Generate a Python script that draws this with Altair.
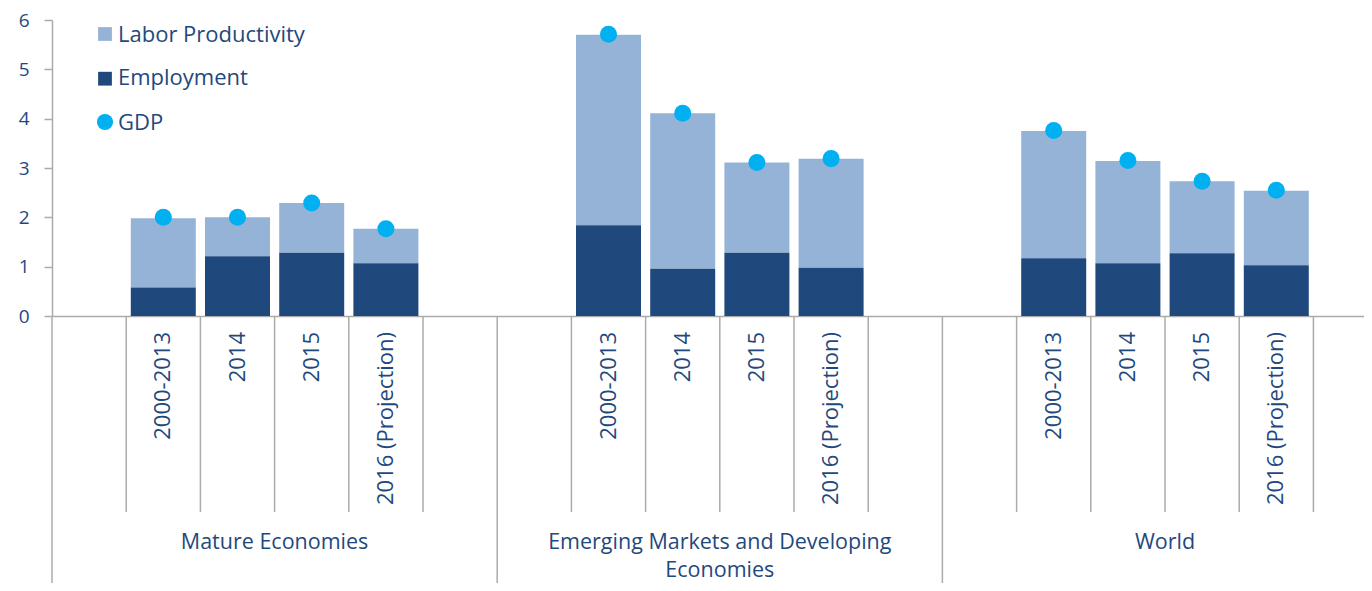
import altair as alt
import pandas as pd

# ---------------- data ----------------
groups = ["Mature Economies", "Emerging Markets and Developing Economies", "World"]
periods = ["2000-2013", "2014", "2015", "2016 (Projection)"]
series = ["Labor Productivity", "Employment", "GDP"]

employment = [
    [0.58, 1.21, 1.28, 1.07],
    [1.84, 0.96, 1.28, 0.98],
    [1.17, 1.07, 1.27, 1.03],
]
labor_productivity = [
    [1.40, 0.79, 1.01, 0.70],
    [3.86, 3.15, 1.83, 2.21],
    [2.58, 2.07, 1.46, 1.51],
]
gdp = [
    [2.00, 2.00, 2.29, 1.77],
    [5.71, 4.11, 3.11, 3.19],
    [3.76, 3.15, 2.73, 2.55],
]
y_ticks = [0, 1, 2, 3, 4, 5, 6]

# ---------------- style ----------------
FONT = "Open Sans"
C_LP = "#95B3D7"
C_EMP = "#1F497D"
C_GDP = "#00B0F0"
TEXT = "#1F497D"
LINE = "#ABABAB"
series_colors = [C_LP, C_EMP, C_GDP]

SLOT = 74.2          # px per category slot
W, H = 1312, 296
PAD_L, PAD_T, PAD_B = 44, 12, 267
XMAX = W / SLOT
SLOTS_PER_GROUP = len(periods) + 2
BAR_HALF = 0.438

rows = []
for gi, g in enumerate(groups):
    for pi, p in enumerate(periods):
        center = gi * SLOTS_PER_GROUP + pi + 1.5
        emp = employment[gi][pi]
        lp = labor_productivity[gi][pi]
        rows.append(dict(group=g, period=p, center=center,
                         x0=center - BAR_HALF, x1=center + BAR_HALF,
                         emp=emp, top=emp + lp, gdp=gdp[gi][pi]))
df = pd.DataFrame(rows)

ticks_df = pd.DataFrame({"pos": [gi * SLOTS_PER_GROUP + 1 + i
                                 for gi in range(len(groups))
                                 for i in range(len(periods) + 1)]})
sep_df = pd.DataFrame({"pos": [gi * SLOTS_PER_GROUP for gi in range(len(groups))]})

grp_df = pd.DataFrame({
    "group": groups,
    "label": [g.replace(" Economies", "\nEconomies") if len(g) > 25 else g for g in groups],
    "center": [gi * SLOTS_PER_GROUP + SLOTS_PER_GROUP / 2 for gi in range(len(groups))],
})

xs = alt.Scale(domain=[0, XMAX], nice=False, zero=False)
ys = alt.Scale(domain=[0, 6], nice=False)

base = alt.Chart(df)

emp_bar = base.mark_bar(color=C_EMP).encode(
    x=alt.X("x0:Q", scale=xs, title=None),
    x2="x1:Q",
    y=alt.Y("emp:Q", scale=ys, title=None),
    y2=alt.datum(0),
)
lp_bar = base.mark_bar(color=C_LP).encode(
    x=alt.X("x0:Q", scale=xs, title=None),
    x2="x1:Q",
    y=alt.Y("top:Q", scale=ys, title=None),
    y2="emp:Q",
)
dots = base.mark_circle(color=C_GDP, size=290, opacity=1).encode(
    x=alt.X("center:Q", scale=xs, title=None),
    y=alt.Y("gdp:Q", scale=ys, title=None),
)

tick_rules = alt.Chart(ticks_df).mark_rule(color=LINE, strokeWidth=1.5).encode(
    x=alt.X("pos:Q", scale=xs, title=None),
    y=alt.datum(0),
    y2=alt.value(H + 196),
)
sep_rules = alt.Chart(sep_df).mark_rule(color=LINE, strokeWidth=1.5).encode(
    x=alt.X("pos:Q", scale=xs, title=None),
    y=alt.datum(0),
    y2=alt.value(H + PAD_B),
)

cat_labels = base.mark_text(angle=270, align="right", baseline="middle",
                            fontSize=22, font=FONT, color=TEXT).encode(
    x=alt.X("center:Q", scale=xs, title=None),
    y=alt.value(H + 16),
    text="period:N",
)
grp_labels = alt.Chart(grp_df).mark_text(align="center", baseline="alphabetic",
                                         fontSize=21.5, font=FONT, color=TEXT,
                                         lineBreak="\n", lineHeight=28).encode(
    x=alt.X("center:Q", scale=xs, title=None),
    y=alt.value(H + 233),
    text="label:N",
)

legend_layers = []
sym_y = [14, 58.7, 102]
txt_y = [21.7, 65.3, 110]
for i, name in enumerate(series):
    one = pd.DataFrame({"series": [name]})
    if i < 2:
        sym = alt.Chart(one).mark_square(size=190, color=series_colors[i], opacity=1)
    else:
        sym = alt.Chart(one).mark_circle(size=260, color=series_colors[i], opacity=1)
    sym = sym.encode(x=alt.value(53), y=alt.value(sym_y[i]))
    txt = alt.Chart(one).mark_text(align="left", baseline="alphabetic", fontSize=22,
                                   font=FONT, color=TEXT).encode(
        x=alt.value(66), y=alt.value(txt_y[i]), text="series:N")
    legend_layers += [sym, txt]

chart = alt.layer(
    tick_rules, sep_rules, lp_bar, emp_bar, dots, cat_labels, grp_labels, *legend_layers
).properties(
    width=W, height=H,
    autosize=alt.AutoSizeParams(type="none"),
    padding={"left": PAD_L, "top": PAD_T, "right": 0, "bottom": PAD_B},
).configure(
    background="white", font=FONT
).configure_view(
    stroke=None
).configure_axisX(
    labels=False, ticks=False, grid=False, domainColor=LINE, domainWidth=1.5
).configure_axisY(
    values=y_ticks, labelFontSize=19, labelFont=FONT, labelColor=TEXT,
    domainColor=LINE, domainWidth=1.5, tickColor=LINE, tickWidth=1.5,
    tickSize=8, labelPadding=15, grid=False
)

chart.save("out.html", embed_options={"renderer": "svg", "actions": False})
